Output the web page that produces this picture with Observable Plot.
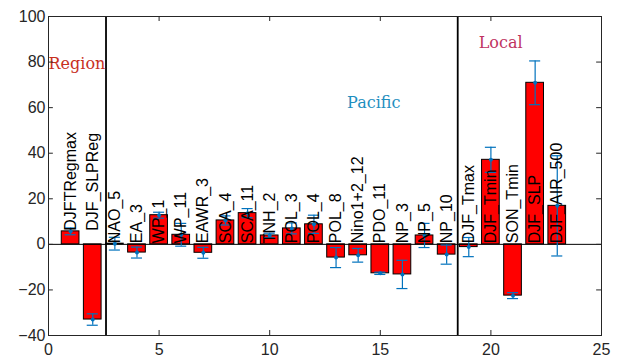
<!DOCTYPE html>
<html>
<head>
<meta charset="utf-8">
<script src="https://cdn.jsdelivr.net/npm/d3@7"></script>
<script src="https://cdn.jsdelivr.net/npm/@observablehq/plot@0.6"></script>
<style>
  html, body { margin: 0; padding: 0; background: #fff; }
</style>
</head>
<body>
<div id="chart"></div>
<script>
const labels = ["DJFTRegmax","DJF_SLPReg","NAO_5","EA_3","WP_1","WP_11","EAWR_3","SCA_4","SCA_11","TNH_2","POL_3","POL_4","POL_8","Nino1+2_12","PDO_11","NP_3","NP_5","NP_10","DJF_Tmax","DJF_Tmin","SON_Tmin","DJF_SLP","DJF_AIR_500"];
const values = [5.7,-33,0.3,-3.6,12.8,4.2,-3.7,10.5,13.7,3.9,7.0,8.8,-5.8,-4.8,-12.7,-13.2,3.9,-4.5,-1.2,37.1,-22.5,70.9,16.9];
const errors = [1.5,2.5,2.8,2.4,1.3,5.0,2.4,2.0,2.0,1.0,2.4,4.0,4.4,3.0,0.5,6.2,5.3,4.2,4.2,5.5,1.3,9.6,22];
const labelY = [6,6,0.5,0.5,0.5,0.5,0.5,0.5,0.5,0.5,0.5,0.5,0.5,0.5,0.5,0.5,0.5,0.5,0.5,0.5,0.5,0.5,0.5];
const dividers = [2.6, 18.5];
const sectionNames = ["Region","Pacific","Local"];
const sectionX = [0, 13.5, 19.45];
const sectionY = [77, 60, 86];
const sectionColors = ["#c8301e","#1f8fbf","#c0335f"];
const xTicks = [0,5,10,15,20,25];
const yTicks = [-40,-20,0,20,40,60,80,100];

const data = labels.map((label, i) => ({
  label, x: i + 1, value: values[i], err: errors[i], ly: labelY[i]
}));
const sections = sectionNames.map((name, i) => ({name, x: sectionX[i], y: sectionY[i], color: sectionColors[i]}));

const axisColor = "#262626";
const blue = "#0072BD";
const sans = "'Liberation Sans', Arial, Helvetica, sans-serif";

const chart = Plot.plot({
  width: 621,
  height: 360,
  marginLeft: 48,
  marginRight: 20,
  marginTop: 16,
  marginBottom: 25,
  style: {fontFamily: sans, fontSize: "16px", color: axisColor, background: "#fff"},
  x: {domain: [0, 25]},
  y: {domain: [-40, 100]},
  marks: [
    Plot.rectY(data, {x1: d => d.x - 0.4, x2: d => d.x + 0.4, y1: 0, y2: "value", fill: "#ff0000", stroke: "#000", strokeWidth: 1}),
    Plot.ruleY([0], {stroke: "#000", strokeWidth: 1}),
    Plot.ruleX(dividers, {stroke: "#000", strokeWidth: 1.8}),
    Plot.ruleX(data, {x: "x", y1: d => d.value - d.err, y2: d => d.value + d.err, stroke: blue, strokeWidth: 1.2}),
    Plot.ruleY(data, {y: d => d.value - d.err, x1: d => d.x - 0.25, x2: d => d.x + 0.25, stroke: blue, strokeWidth: 1.2}),
    Plot.ruleY(data, {y: d => d.value + d.err, x1: d => d.x - 0.25, x2: d => d.x + 0.25, stroke: blue, strokeWidth: 1.2}),
    Plot.dot(data, {x: "x", y: "value", r: 2, fill: blue, stroke: null}),
    Plot.text(data, {x: "x", y: "ly", text: "label", rotate: -90, textAnchor: "start", lineAnchor: "middle", fill: "#000", fontSize: 16, fontFamily: sans}),
    Plot.text(sections, {x: "x", y: "y", text: "name", fill: "color", textAnchor: "start", lineAnchor: "bottom", fontFamily: "'DejaVu Serif', serif", fontSize: 16}),
    // inward ticks
    Plot.ruleY(yTicks, {y: d => d, x1: 0, x2: 0.22, stroke: axisColor}),
    Plot.ruleY(yTicks, {y: d => d, x1: 24.78, x2: 25, stroke: axisColor}),
    Plot.ruleX(xTicks, {x: d => d, y1: -40, y2: -37.8, stroke: axisColor}),
    Plot.ruleX(xTicks, {x: d => d, y1: 100, y2: 97.8, stroke: axisColor}),
    Plot.axisY(yTicks, {tickSize: 0, tickPadding: 3, fontSize: 16, fill: axisColor, label: null, fontFamily: sans}),
    Plot.axisX(xTicks, {tickSize: 0, tickPadding: 8, fontSize: 16, fill: axisColor, label: null, fontFamily: sans}),
    Plot.frame({stroke: axisColor, strokeWidth: 1})
  ]
});
document.getElementById("chart").appendChild(chart);
</script>
</body>
</html>
